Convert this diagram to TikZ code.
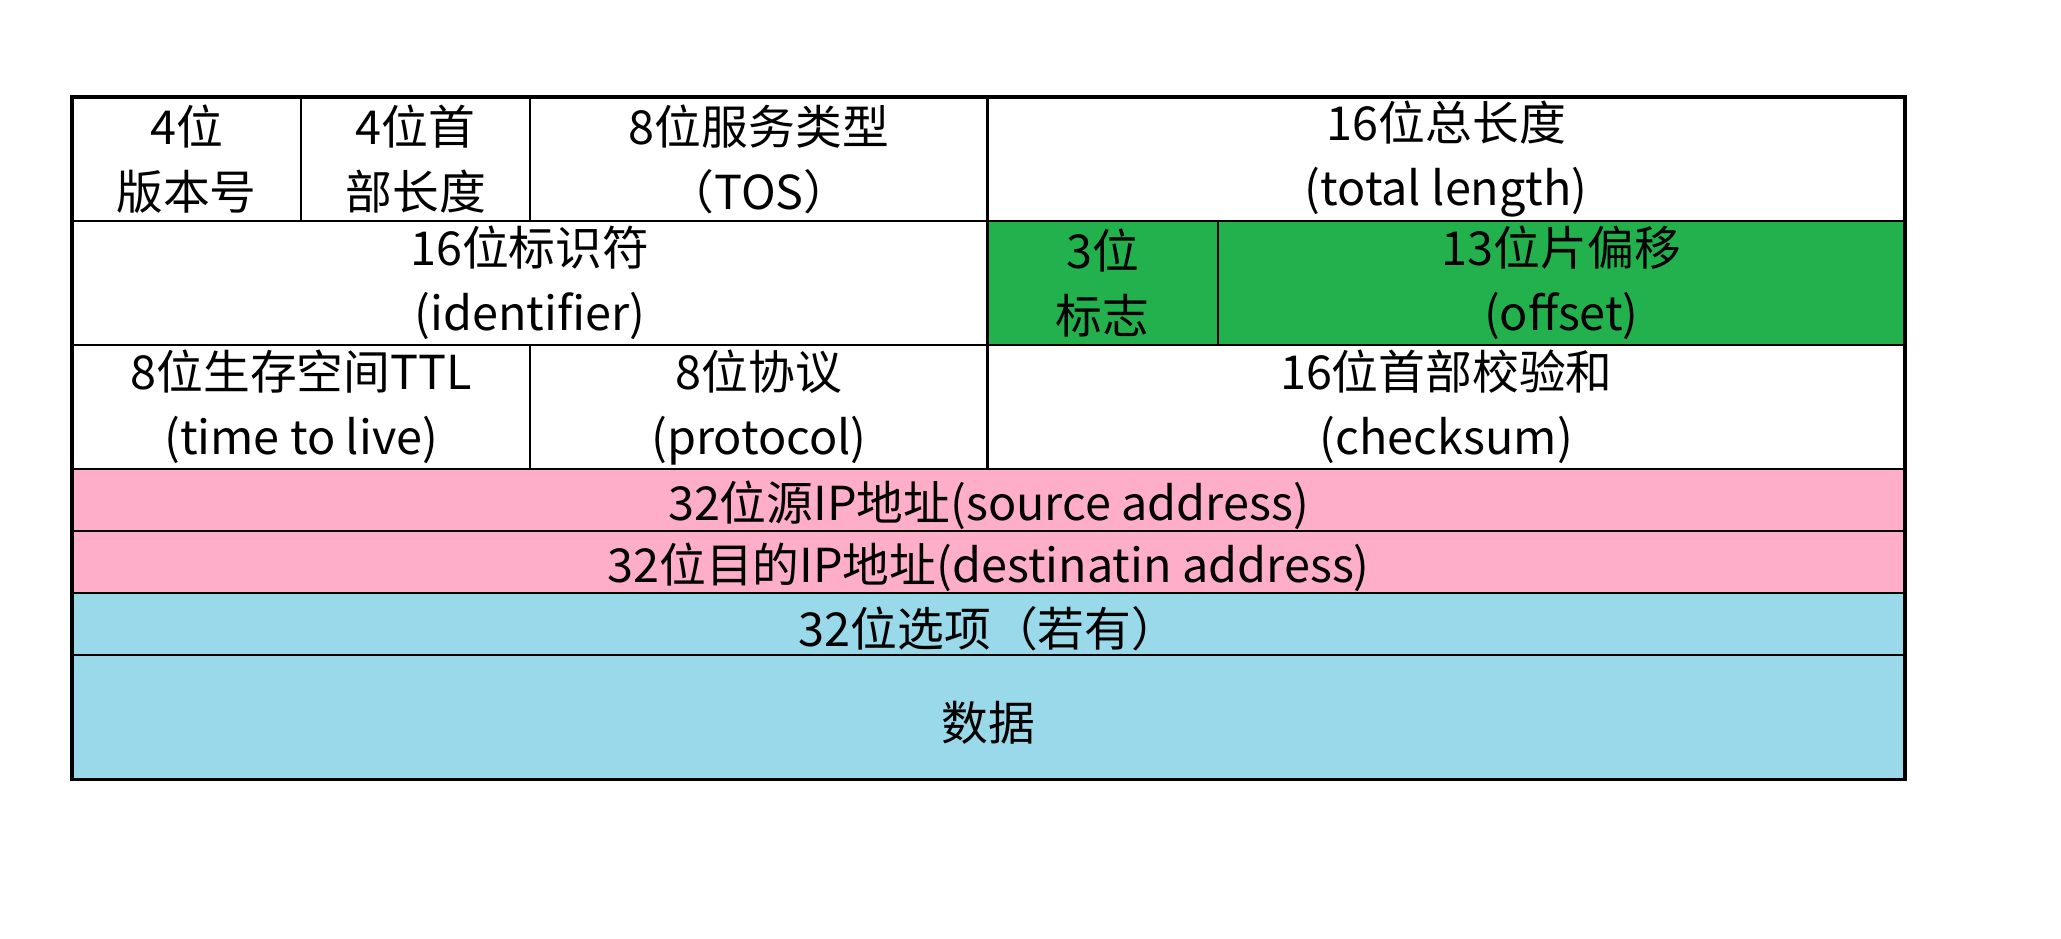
\documentclass[tikz,border=0pt]{standalone}
\usepackage{fontspec}
\setmainfont{Noto Sans CJK SC}
\usepackage{tikz}
\usetikzlibrary{positioning}
\definecolor{flaggreen}{RGB}{34,177,76}
\definecolor{addrpink}{RGB}{255,174,201}
\definecolor{optblue}{RGB}{153,217,234}

\begin{document}
\begin{tikzpicture}[
  x=0.01cm, y=-0.01cm,
  every node/.style={font=\fontsize{13.3}{18.5}\selectfont},
  cell/.style={rectangle, draw=black, line width=0.6pt, inner sep=0pt,
    outer sep=0pt, align=center, minimum height=1.24cm,
    execute at begin node={\rule{0pt}{14pt}}},
  half/.style={cell, minimum height=0.62cm}
]
  \useasboundingbox (0,0) rectangle (2061,938);
  % row 1
  \node[cell, minimum width=2.29cm, anchor=north west] (ver) at (72,97) {4位\\版本号};
  \node[cell, minimum width=2.29cm, right=0pt of ver] (hlen) {4位首\\部长度};
  \node[cell, minimum width=4.57cm, right=0pt of hlen] (tos) {8位服务类型\\（TOS）};
  \node[cell, minimum width=9.17cm, right=0pt of tos] (tlen) {16位总长度\\(total length)};
  % row 2
  \node[cell, minimum width=9.15cm, below right=0pt of ver.south west] (ident) {16位标识符\\(identifier)};
  \node[cell, fill=flaggreen, minimum width=2.30cm, right=0pt of ident] (flag) {3位\\标志};
  \node[cell, fill=flaggreen, minimum width=6.87cm, right=0pt of flag] (offs) {13位片偏移\\(offset)};
  % row 3
  \node[cell, minimum width=4.58cm, below right=0pt of ident.south west] (ttl) {8位生存空间TTL\\(time to live)};
  \node[cell, minimum width=4.57cm, right=0pt of ttl] (proto) {8位协议\\(protocol)};
  \node[cell, minimum width=9.17cm, right=0pt of proto] (csum) {16位首部校验和\\(checksum)};
  % full-width rows
  \node[half, fill=addrpink, minimum width=18.32cm, below right=0pt of ttl.south west] (src) {32位源IP地址(source address)};
  \node[half, fill=addrpink, minimum width=18.32cm, below=0pt of src] (dst) {32位目的IP地址(destinatin address)};
  \node[half, fill=optblue, minimum width=18.32cm, below=0pt of dst] (opt) {32位选项（若有）};
  \node[cell, fill=optblue, minimum width=18.32cm, below=0pt of opt] (data) {数据};

  \draw[line width=1pt] (ver.north west) rectangle (data.south east);
\end{tikzpicture}
\end{document}
